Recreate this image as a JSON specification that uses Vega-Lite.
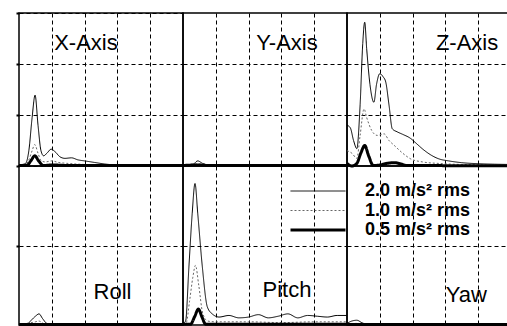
{
  "$schema": "https://vega.github.io/schema/vega-lite/v6.json",
  "padding": {"left": 12, "top": 11, "right": 0, "bottom": 0},
  "background": "white",
  "spacing": 0,
  "bounds": "flush",
  "columns": 3,
  "datasets": {
    "curves": [
      {"p":"X","l":"2.0","f":0,"v":0.02},{"p":"X","l":"2.0","f":1,"v":0.03},{"p":"X","l":"2.0","f":2,"v":0.05},{"p":"X","l":"2.0","f":3,"v":0.3},{"p":"X","l":"2.0","f":4,"v":0.95},{"p":"X","l":"2.0","f":4.9,"v":1.39},{"p":"X","l":"2.0","f":5.8,"v":0.8},{"p":"X","l":"2.0","f":6.7,"v":0.3},{"p":"X","l":"2.0","f":7.5,"v":0.2},{"p":"X","l":"2.0","f":8.5,"v":0.25},{"p":"X","l":"2.0","f":9.8,"v":0.33},{"p":"X","l":"2.0","f":11,"v":0.28},{"p":"X","l":"2.0","f":12.5,"v":0.18},{"p":"X","l":"2.0","f":14,"v":0.15},{"p":"X","l":"2.0","f":16,"v":0.16},{"p":"X","l":"2.0","f":18,"v":0.12},{"p":"X","l":"2.0","f":20,"v":0.1},{"p":"X","l":"2.0","f":23,"v":0.07},{"p":"X","l":"2.0","f":26,"v":0.04},{"p":"X","l":"2.0","f":30,"v":0.02},{"p":"X","l":"2.0","f":40,"v":0.01},{"p":"X","l":"2.0","f":50,"v":0.01},
      {"p":"X","l":"1.0","f":0,"v":0.02},{"p":"X","l":"1.0","f":2,"v":0.03},{"p":"X","l":"1.0","f":3,"v":0.12},{"p":"X","l":"1.0","f":4,"v":0.3},{"p":"X","l":"1.0","f":4.8,"v":0.42},{"p":"X","l":"1.0","f":5.8,"v":0.25},{"p":"X","l":"1.0","f":6.8,"v":0.1},{"p":"X","l":"1.0","f":8,"v":0.08},{"p":"X","l":"1.0","f":10,"v":0.1},{"p":"X","l":"1.0","f":12,"v":0.07},{"p":"X","l":"1.0","f":15,"v":0.05},{"p":"X","l":"1.0","f":20,"v":0.03},{"p":"X","l":"1.0","f":25,"v":0.02},{"p":"X","l":"1.0","f":30,"v":0.01},{"p":"X","l":"1.0","f":50,"v":0.01},
      {"p":"X","l":"0.5","f":0,"v":0.01},{"p":"X","l":"0.5","f":2.4,"v":0.01},{"p":"X","l":"0.5","f":3.6,"v":0.1},{"p":"X","l":"0.5","f":4.8,"v":0.2},{"p":"X","l":"0.5","f":6,"v":0.1},{"p":"X","l":"0.5","f":7.4,"v":0.01},{"p":"X","l":"0.5","f":10,"v":0.02},{"p":"X","l":"0.5","f":15,"v":0.01},{"p":"X","l":"0.5","f":50,"v":0.01},
      {"p":"Y","l":"2.0","f":0,"v":0.01},{"p":"Y","l":"2.0","f":3,"v":0.03},{"p":"Y","l":"2.0","f":4.5,"v":0.1},{"p":"Y","l":"2.0","f":6,"v":0.05},{"p":"Y","l":"2.0","f":8,"v":0.02},{"p":"Y","l":"2.0","f":15,"v":0.01},{"p":"Y","l":"2.0","f":50,"v":0.01},
      {"p":"Y","l":"1.0","f":0,"v":0.01},{"p":"Y","l":"1.0","f":4.5,"v":0.04},{"p":"Y","l":"1.0","f":8,"v":0.01},{"p":"Y","l":"1.0","f":50,"v":0.01},
      {"p":"Y","l":"0.5","f":0,"v":0.01},{"p":"Y","l":"0.5","f":4.5,"v":0.02},{"p":"Y","l":"0.5","f":8,"v":0.01},{"p":"Y","l":"0.5","f":50,"v":0.01},
      {"p":"Z","l":"2.0","f":0,"v":0.8},{"p":"Z","l":"2.0","f":1,"v":0.75},{"p":"Z","l":"2.0","f":2,"v":0.5},{"p":"Z","l":"2.0","f":3,"v":0.34},{"p":"Z","l":"2.0","f":4,"v":1.2},{"p":"Z","l":"2.0","f":4.8,"v":2.4},{"p":"Z","l":"2.0","f":5.4,"v":2.82},{"p":"Z","l":"2.0","f":6,"v":2.3},{"p":"Z","l":"2.0","f":7,"v":1.6},{"p":"Z","l":"2.0","f":8.2,"v":1.25},{"p":"Z","l":"2.0","f":9,"v":1.6},{"p":"Z","l":"2.0","f":10,"v":1.81},{"p":"Z","l":"2.0","f":11,"v":1.75},{"p":"Z","l":"2.0","f":11.8,"v":1.65},{"p":"Z","l":"2.0","f":12.8,"v":1.2},{"p":"Z","l":"2.0","f":13.8,"v":0.73},{"p":"Z","l":"2.0","f":15.3,"v":0.67},{"p":"Z","l":"2.0","f":17,"v":0.62},{"p":"Z","l":"2.0","f":19.4,"v":0.54},{"p":"Z","l":"2.0","f":21,"v":0.45},{"p":"Z","l":"2.0","f":23.5,"v":0.31},{"p":"Z","l":"2.0","f":26,"v":0.2},{"p":"Z","l":"2.0","f":28,"v":0.14},{"p":"Z","l":"2.0","f":31,"v":0.1},{"p":"Z","l":"2.0","f":35,"v":0.065},{"p":"Z","l":"2.0","f":40,"v":0.045},{"p":"Z","l":"2.0","f":45,"v":0.035},{"p":"Z","l":"2.0","f":50,"v":0.03},
      {"p":"Z","l":"1.0","f":0,"v":0.3},{"p":"Z","l":"1.0","f":1.5,"v":0.25},{"p":"Z","l":"1.0","f":3,"v":0.15},{"p":"Z","l":"1.0","f":4,"v":0.6},{"p":"Z","l":"1.0","f":5.2,"v":1.12},{"p":"Z","l":"1.0","f":6,"v":0.95},{"p":"Z","l":"1.0","f":7.5,"v":0.7},{"p":"Z","l":"1.0","f":9.2,"v":0.6},{"p":"Z","l":"1.0","f":11.3,"v":0.63},{"p":"Z","l":"1.0","f":12.8,"v":0.5},{"p":"Z","l":"1.0","f":14.3,"v":0.41},{"p":"Z","l":"1.0","f":17,"v":0.25},{"p":"Z","l":"1.0","f":19.4,"v":0.14},{"p":"Z","l":"1.0","f":23,"v":0.08},{"p":"Z","l":"1.0","f":28,"v":0.05},{"p":"Z","l":"1.0","f":35,"v":0.03},{"p":"Z","l":"1.0","f":50,"v":0.02},
      {"p":"Z","l":"0.5","f":0,"v":0.05},{"p":"Z","l":"0.5","f":1.5,"v":0.0},{"p":"Z","l":"0.5","f":3,"v":0.05},{"p":"Z","l":"0.5","f":4.2,"v":0.25},{"p":"Z","l":"0.5","f":5.4,"v":0.4},{"p":"Z","l":"0.5","f":6.6,"v":0.2},{"p":"Z","l":"0.5","f":8,"v":0.01},{"p":"Z","l":"0.5","f":10,"v":0.02},{"p":"Z","l":"0.5","f":12,"v":0.05},{"p":"Z","l":"0.5","f":14.3,"v":0.065},{"p":"Z","l":"0.5","f":16.5,"v":0.04},{"p":"Z","l":"0.5","f":18,"v":0.01},{"p":"Z","l":"0.5","f":50,"v":0.005},
      {"p":"R","l":"2.0","f":0,"v":0.01},{"p":"R","l":"2.0","f":2.5,"v":0.01},{"p":"R","l":"2.0","f":3.5,"v":0.05},{"p":"R","l":"2.0","f":5,"v":0.11},{"p":"R","l":"2.0","f":6.1,"v":0.14},{"p":"R","l":"2.0","f":7.2,"v":0.08},{"p":"R","l":"2.0","f":8.5,"v":0.02},{"p":"R","l":"2.0","f":10,"v":0.01},{"p":"R","l":"2.0","f":50,"v":0.01},
      {"p":"R","l":"1.0","f":0,"v":0.01},{"p":"R","l":"1.0","f":5,"v":0.04},{"p":"R","l":"1.0","f":6,"v":0.05},{"p":"R","l":"1.0","f":8,"v":0.01},{"p":"R","l":"1.0","f":50,"v":0.01},
      {"p":"R","l":"0.5","f":0,"v":0.005},{"p":"R","l":"0.5","f":50,"v":0.005},
      {"p":"P","l":"2.0","f":0,"v":0.02},{"p":"P","l":"2.0","f":0.8,"v":0.05},{"p":"P","l":"2.0","f":1.8,"v":0.73},{"p":"P","l":"2.0","f":2.8,"v":1.4},{"p":"P","l":"2.0","f":3.66,"v":1.78},{"p":"P","l":"2.0","f":4.5,"v":1.4},{"p":"P","l":"2.0","f":5.9,"v":0.73},{"p":"P","l":"2.0","f":7.4,"v":0.23},{"p":"P","l":"2.0","f":8.9,"v":0.14},{"p":"P","l":"2.0","f":11,"v":0.1},{"p":"P","l":"2.0","f":14,"v":0.12},{"p":"P","l":"2.0","f":17,"v":0.09},{"p":"P","l":"2.0","f":20,"v":0.1},{"p":"P","l":"2.0","f":23,"v":0.13},{"p":"P","l":"2.0","f":26,"v":0.09},{"p":"P","l":"2.0","f":29,"v":0.11},{"p":"P","l":"2.0","f":32,"v":0.14},{"p":"P","l":"2.0","f":35,"v":0.09},{"p":"P","l":"2.0","f":38,"v":0.12},{"p":"P","l":"2.0","f":41,"v":0.11},{"p":"P","l":"2.0","f":44,"v":0.1},{"p":"P","l":"2.0","f":47,"v":0.12},{"p":"P","l":"2.0","f":50,"v":0.12},
      {"p":"P","l":"1.0","f":0,"v":0.01},{"p":"P","l":"1.0","f":1,"v":0.03},{"p":"P","l":"1.0","f":2,"v":0.3},{"p":"P","l":"1.0","f":3,"v":0.6},{"p":"P","l":"1.0","f":3.8,"v":0.75},{"p":"P","l":"1.0","f":4.8,"v":0.5},{"p":"P","l":"1.0","f":6,"v":0.15},{"p":"P","l":"1.0","f":7.5,"v":0.05},{"p":"P","l":"1.0","f":10,"v":0.04},{"p":"P","l":"1.0","f":20,"v":0.04},{"p":"P","l":"1.0","f":30,"v":0.03},{"p":"P","l":"1.0","f":40,"v":0.04},{"p":"P","l":"1.0","f":50,"v":0.04},
      {"p":"P","l":"0.5","f":0,"v":0.01},{"p":"P","l":"0.5","f":2.3,"v":0.01},{"p":"P","l":"0.5","f":3.5,"v":0.1},{"p":"P","l":"0.5","f":4.7,"v":0.2},{"p":"P","l":"0.5","f":5.8,"v":0.1},{"p":"P","l":"0.5","f":6.9,"v":0.01},{"p":"P","l":"0.5","f":50,"v":0.01},
      {"p":"W","l":"2.0","f":0,"v":0.02},{"p":"W","l":"2.0","f":1.5,"v":0.05},{"p":"W","l":"2.0","f":3,"v":0.06},{"p":"W","l":"2.0","f":4.5,"v":0.03},{"p":"W","l":"2.0","f":6,"v":0.01},{"p":"W","l":"2.0","f":50,"v":0.01},
      {"p":"W","l":"1.0","f":0,"v":0.01},{"p":"W","l":"1.0","f":3,"v":0.02},{"p":"W","l":"1.0","f":6,"v":0.01},{"p":"W","l":"1.0","f":50,"v":0.01},
      {"p":"W","l":"0.5","f":0,"v":0.005},{"p":"W","l":"0.5","f":50,"v":0.005}
    ],
    "labels": [
      {"p":"X","t":"X-Axis"},{"p":"Y","t":"Y-Axis"},{"p":"Z","t":"Z-Axis"},
      {"p":"R","t":"Roll"},{"p":"P","t":"Pitch"},{"p":"W","t":"Yaw"}
    ]
  },
  "concat": [
    {
      "width": 164, "height": 153,
      "layer": [
        {
          "data": {"name": "curves"},
          "transform": [{"filter": "datum.p === 'X'"}],
          "mark": {"type": "line", "interpolate": "monotone"},
          "encoding": {
            "x": {"field": "f", "type": "quantitative", "scale": {"domain": [0, 50]}, "axis": {"values": [10, 20, 30, 40], "ticks": false}},
            "y": {"field": "v", "type": "quantitative", "scale": {"domain": [0, 3]}, "axis": {"values": [0, 1, 2, 3], "ticks": true}},
            "strokeWidth": {"field": "l", "type": "ordinal", "scale": {"type": "ordinal", "domain": ["2.0", "1.0", "0.5"], "range": [1, 1, 3]}, "legend": {"title": null, "orient": "none", "legendX": 290, "legendY": 169, "symbolType": "M-4,0H4", "symbolSize": 189, "labelOffset": 38, "rowPadding": 1.5, "labelExpr": "datum.label + ' m/s² rms'"}},
            "strokeDash": {"field": "l", "type": "ordinal", "scale": {"type": "ordinal", "domain": ["2.0", "1.0", "0.5"], "range": [[1, 0], [2, 2], [1, 0]]}, "legend": {"title": null, "orient": "none", "legendX": 290, "legendY": 169, "symbolType": "M-4,0H4", "symbolSize": 189, "labelOffset": 38, "rowPadding": 1.5, "labelExpr": "datum.label + ' m/s² rms'"}},
            "color": {"field": "l", "type": "ordinal", "scale": {"type": "ordinal", "domain": ["2.0", "1.0", "0.5"], "range": ["#000000", "#666666", "#000000"]}, "legend": {"title": null, "orient": "none", "legendX": 290, "legendY": 169, "symbolType": "M-4,0H4", "symbolSize": 189, "labelOffset": 38, "rowPadding": 1.5, "labelExpr": "datum.label + ' m/s² rms'"}}
          }
        },
        {
          "data": {"name": "labels"},
          "transform": [{"filter": "datum.p === 'X'"}],
          "mark": {"type": "text", "font": "Liberation Sans", "fontSize": 22, "color": "black", "baseline": "middle", "align": "center"},
          "encoding": {
            "x": {"datum": 20.4, "type": "quantitative"},
            "y": {"datum": 2.41, "type": "quantitative"},
            "text": {"field": "t"}
          }
        }
      ]
    },
    {
      "width": 164, "height": 153,
      "layer": [
        {
          "data": {"name": "curves"},
          "transform": [{"filter": "datum.p === 'Y'"}],
          "mark": {"type": "line", "interpolate": "monotone"},
          "encoding": {
            "x": {"field": "f", "type": "quantitative", "scale": {"domain": [0, 50]}, "axis": {"values": [10, 20, 30, 40], "ticks": false}},
            "y": {"field": "v", "type": "quantitative", "scale": {"domain": [0, 3]}, "axis": {"values": [1, 2], "ticks": false}},
            "strokeWidth": {"field": "l", "type": "ordinal", "scale": {"type": "ordinal", "domain": ["2.0", "1.0", "0.5"], "range": [1, 1, 3]}, "legend": {"title": null, "orient": "none", "legendX": 290, "legendY": 169, "symbolType": "M-4,0H4", "symbolSize": 189, "labelOffset": 38, "rowPadding": 1.5, "labelExpr": "datum.label + ' m/s² rms'"}},
            "strokeDash": {"field": "l", "type": "ordinal", "scale": {"type": "ordinal", "domain": ["2.0", "1.0", "0.5"], "range": [[1, 0], [2, 2], [1, 0]]}, "legend": {"title": null, "orient": "none", "legendX": 290, "legendY": 169, "symbolType": "M-4,0H4", "symbolSize": 189, "labelOffset": 38, "rowPadding": 1.5, "labelExpr": "datum.label + ' m/s² rms'"}},
            "color": {"field": "l", "type": "ordinal", "scale": {"type": "ordinal", "domain": ["2.0", "1.0", "0.5"], "range": ["#000000", "#666666", "#000000"]}, "legend": {"title": null, "orient": "none", "legendX": 290, "legendY": 169, "symbolType": "M-4,0H4", "symbolSize": 189, "labelOffset": 38, "rowPadding": 1.5, "labelExpr": "datum.label + ' m/s² rms'"}}
          }
        },
        {
          "data": {"name": "labels"},
          "transform": [{"filter": "datum.p === 'Y'"}],
          "mark": {"type": "text", "font": "Liberation Sans", "fontSize": 22, "color": "black", "baseline": "middle", "align": "center"},
          "encoding": {
            "x": {"datum": 31.7, "type": "quantitative"},
            "y": {"datum": 2.41, "type": "quantitative"},
            "text": {"field": "t"}
          }
        }
      ]
    },
    {
      "width": 164, "height": 153,
      "layer": [
        {
          "data": {"name": "curves"},
          "transform": [{"filter": "datum.p === 'Z'"}],
          "mark": {"type": "line", "interpolate": "monotone"},
          "encoding": {
            "x": {"field": "f", "type": "quantitative", "scale": {"domain": [0, 50]}, "axis": {"values": [10, 20, 30, 40], "ticks": false}},
            "y": {"field": "v", "type": "quantitative", "scale": {"domain": [0, 3]}, "axis": {"values": [1, 2], "ticks": false}},
            "strokeWidth": {"field": "l", "type": "ordinal", "scale": {"type": "ordinal", "domain": ["2.0", "1.0", "0.5"], "range": [1, 1, 3]}, "legend": {"title": null, "orient": "none", "legendX": 290, "legendY": 169, "symbolType": "M-4,0H4", "symbolSize": 189, "labelOffset": 38, "rowPadding": 1.5, "labelExpr": "datum.label + ' m/s² rms'"}},
            "strokeDash": {"field": "l", "type": "ordinal", "scale": {"type": "ordinal", "domain": ["2.0", "1.0", "0.5"], "range": [[1, 0], [2, 2], [1, 0]]}, "legend": {"title": null, "orient": "none", "legendX": 290, "legendY": 169, "symbolType": "M-4,0H4", "symbolSize": 189, "labelOffset": 38, "rowPadding": 1.5, "labelExpr": "datum.label + ' m/s² rms'"}},
            "color": {"field": "l", "type": "ordinal", "scale": {"type": "ordinal", "domain": ["2.0", "1.0", "0.5"], "range": ["#000000", "#666666", "#000000"]}, "legend": {"title": null, "orient": "none", "legendX": 290, "legendY": 169, "symbolType": "M-4,0H4", "symbolSize": 189, "labelOffset": 38, "rowPadding": 1.5, "labelExpr": "datum.label + ' m/s² rms'"}}
          }
        },
        {
          "data": {"name": "labels"},
          "transform": [{"filter": "datum.p === 'Z'"}],
          "mark": {"type": "text", "font": "Liberation Sans", "fontSize": 22, "color": "black", "baseline": "middle", "align": "center"},
          "encoding": {
            "x": {"datum": 36.6, "type": "quantitative"},
            "y": {"datum": 2.41, "type": "quantitative"},
            "text": {"field": "t"}
          }
        }
      ]
    },
    {
      "width": 164, "height": 159,
      "layer": [
        {
          "data": {"name": "curves"},
          "transform": [{"filter": "datum.p === 'R'"}],
          "mark": {"type": "line", "interpolate": "monotone"},
          "encoding": {
            "x": {"field": "f", "type": "quantitative", "scale": {"domain": [0, 50]}, "axis": {"values": [10, 20, 30, 40], "ticks": true}},
            "y": {"field": "v", "type": "quantitative", "scale": {"domain": [0, 2]}, "axis": {"values": [1], "ticks": true}},
            "strokeWidth": {"field": "l", "type": "ordinal", "scale": {"type": "ordinal", "domain": ["2.0", "1.0", "0.5"], "range": [1, 1, 3]}, "legend": {"title": null, "orient": "none", "legendX": 290, "legendY": 169, "symbolType": "M-4,0H4", "symbolSize": 189, "labelOffset": 38, "rowPadding": 1.5, "labelExpr": "datum.label + ' m/s² rms'"}},
            "strokeDash": {"field": "l", "type": "ordinal", "scale": {"type": "ordinal", "domain": ["2.0", "1.0", "0.5"], "range": [[1, 0], [2, 2], [1, 0]]}, "legend": {"title": null, "orient": "none", "legendX": 290, "legendY": 169, "symbolType": "M-4,0H4", "symbolSize": 189, "labelOffset": 38, "rowPadding": 1.5, "labelExpr": "datum.label + ' m/s² rms'"}},
            "color": {"field": "l", "type": "ordinal", "scale": {"type": "ordinal", "domain": ["2.0", "1.0", "0.5"], "range": ["#000000", "#666666", "#000000"]}, "legend": {"title": null, "orient": "none", "legendX": 290, "legendY": 169, "symbolType": "M-4,0H4", "symbolSize": 189, "labelOffset": 38, "rowPadding": 1.5, "labelExpr": "datum.label + ' m/s² rms'"}}
          }
        },
        {
          "data": {"name": "labels"},
          "transform": [{"filter": "datum.p === 'R'"}],
          "mark": {"type": "text", "font": "Liberation Sans", "fontSize": 22, "color": "black", "baseline": "middle", "align": "center"},
          "encoding": {
            "x": {"datum": 28.5, "type": "quantitative"},
            "y": {"datum": 0.415, "type": "quantitative"},
            "text": {"field": "t"}
          }
        }
      ]
    },
    {
      "width": 164, "height": 159,
      "layer": [
        {
          "data": {"name": "curves"},
          "transform": [{"filter": "datum.p === 'P'"}],
          "mark": {"type": "line", "interpolate": "monotone"},
          "encoding": {
            "x": {"field": "f", "type": "quantitative", "scale": {"domain": [0, 50]}, "axis": {"values": [10, 20, 30, 40], "ticks": true}},
            "y": {"field": "v", "type": "quantitative", "scale": {"domain": [0, 2]}, "axis": {"values": [1], "ticks": false}},
            "strokeWidth": {"field": "l", "type": "ordinal", "scale": {"type": "ordinal", "domain": ["2.0", "1.0", "0.5"], "range": [1, 1, 3]}, "legend": {"title": null, "orient": "none", "legendX": 290, "legendY": 169, "symbolType": "M-4,0H4", "symbolSize": 189, "labelOffset": 38, "rowPadding": 1.5, "labelExpr": "datum.label + ' m/s² rms'"}},
            "strokeDash": {"field": "l", "type": "ordinal", "scale": {"type": "ordinal", "domain": ["2.0", "1.0", "0.5"], "range": [[1, 0], [2, 2], [1, 0]]}, "legend": {"title": null, "orient": "none", "legendX": 290, "legendY": 169, "symbolType": "M-4,0H4", "symbolSize": 189, "labelOffset": 38, "rowPadding": 1.5, "labelExpr": "datum.label + ' m/s² rms'"}},
            "color": {"field": "l", "type": "ordinal", "scale": {"type": "ordinal", "domain": ["2.0", "1.0", "0.5"], "range": ["#000000", "#666666", "#000000"]}, "legend": {"title": null, "orient": "none", "legendX": 290, "legendY": 169, "symbolType": "M-4,0H4", "symbolSize": 189, "labelOffset": 38, "rowPadding": 1.5, "labelExpr": "datum.label + ' m/s² rms'"}}
          }
        },
        {
          "data": {"name": "labels"},
          "transform": [{"filter": "datum.p === 'P'"}],
          "mark": {"type": "text", "font": "Liberation Sans", "fontSize": 22, "color": "black", "baseline": "middle", "align": "center"},
          "encoding": {
            "x": {"datum": 31.7, "type": "quantitative"},
            "y": {"datum": 0.434, "type": "quantitative"},
            "text": {"field": "t"}
          }
        }
      ]
    },
    {
      "width": 164, "height": 159,
      "layer": [
        {
          "data": {"name": "curves"},
          "transform": [{"filter": "datum.p === 'W'"}],
          "mark": {"type": "line", "interpolate": "monotone"},
          "encoding": {
            "x": {"field": "f", "type": "quantitative", "scale": {"domain": [0, 50]}, "axis": {"values": [10, 20, 30, 40], "ticks": true}},
            "y": {"field": "v", "type": "quantitative", "scale": {"domain": [0, 2]}, "axis": {"values": [1], "ticks": false}},
            "strokeWidth": {"field": "l", "type": "ordinal", "scale": {"type": "ordinal", "domain": ["2.0", "1.0", "0.5"], "range": [1, 1, 3]}, "legend": {"title": null, "orient": "none", "legendX": 290, "legendY": 169, "symbolType": "M-4,0H4", "symbolSize": 189, "labelOffset": 38, "rowPadding": 1.5, "labelExpr": "datum.label + ' m/s² rms'"}},
            "strokeDash": {"field": "l", "type": "ordinal", "scale": {"type": "ordinal", "domain": ["2.0", "1.0", "0.5"], "range": [[1, 0], [2, 2], [1, 0]]}, "legend": {"title": null, "orient": "none", "legendX": 290, "legendY": 169, "symbolType": "M-4,0H4", "symbolSize": 189, "labelOffset": 38, "rowPadding": 1.5, "labelExpr": "datum.label + ' m/s² rms'"}},
            "color": {"field": "l", "type": "ordinal", "scale": {"type": "ordinal", "domain": ["2.0", "1.0", "0.5"], "range": ["#000000", "#666666", "#000000"]}, "legend": {"title": null, "orient": "none", "legendX": 290, "legendY": 169, "symbolType": "M-4,0H4", "symbolSize": 189, "labelOffset": 38, "rowPadding": 1.5, "labelExpr": "datum.label + ' m/s² rms'"}}
          }
        },
        {
          "data": {"name": "labels"},
          "transform": [{"filter": "datum.p === 'W'"}],
          "mark": {"type": "text", "font": "Liberation Sans", "fontSize": 22, "color": "black", "baseline": "middle", "align": "center"},
          "encoding": {
            "x": {"datum": 36.4, "type": "quantitative"},
            "y": {"datum": 0.377, "type": "quantitative"},
            "text": {"field": "t"}
          }
        }
      ]
    }
  ],
  "config": {
    "view": {"stroke": "black", "strokeWidth": 1.5},
    "axis": {
      "title": null, "labels": false, "domain": false,
      "grid": true, "gridColor": "black", "gridOpacity": 1, "gridWidth": 1, "gridDash": [4, 3],
      "tickColor": "black", "tickSize": 3, "tickWidth": 2
    },
    "legend": {
      "labelFont": "Liberation Sans", "labelFontSize": 18, "labelFontWeight": "bold", "labelColor": "black",
      "symbolStrokeColor": "black", "padding": 0, "labelLimit": 300
    }
  }
}
